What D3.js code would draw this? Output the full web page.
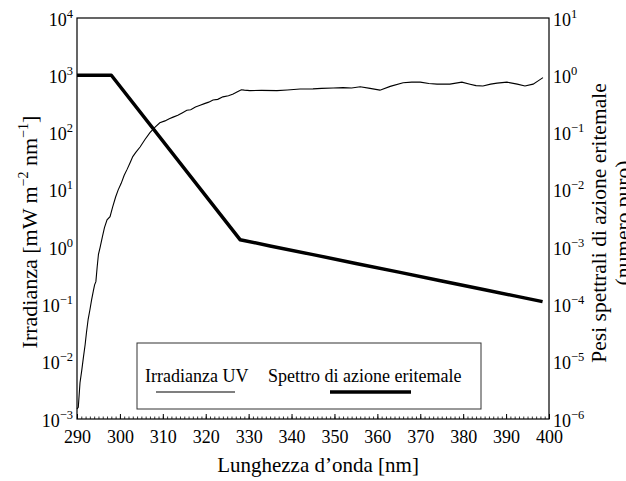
<!DOCTYPE html>
<html>
<head>
<meta charset="utf-8">
<script src="https://cdn.jsdelivr.net/npm/d3@7"></script>
<style>
  html, body { margin: 0; padding: 0; background: #fff; }
  svg { display: block; }
  svg text { font-family: "Liberation Serif", "DejaVu Serif", "Times New Roman", Times, serif !important; fill: #000; }
</style>
</head>
<body>
<svg id="chart" width="626" height="481" font-family="Liberation Serif, serif"></svg>
<script>
// ---- data ----
const xTicks = [290, 300, 310, 320, 330, 340, 350, 360, 370, 380, 390, 400];
const leftExponents = [-3, -2, -1, 0, 1, 2, 3, 4];
const rightExponents = [-6, -5, -4, -3, -2, -1, 0, 1];

const uvWavelength = [290.0, 290.3, 290.7, 291.1, 291.5, 291.9, 292.2, 292.6, 293.0, 293.4, 293.8, 294.1, 294.4,
  294.7, 295.0, 295.4, 295.9, 296.4, 297.0, 297.7, 298.3, 299.0, 299.6, 300.3, 301.0, 301.7, 302.4, 303.0,
  303.7, 304.7, 305.8, 307.0, 308.2, 309.3, 310.5, 311.5, 312.4, 313.5, 314.5, 315.6, 316.5, 317.6, 318.7,
  319.7, 320.7, 321.7, 322.8, 324.0, 325.3, 326.4, 327.5, 328.3, 329.0, 330.3, 333.0, 336.6, 339.0, 342.0,
  345.0, 347.0, 349.7, 352.0, 354.0, 356.0, 358.3, 360.6, 363.0, 366.0, 368.0, 370.0, 372.0, 373.9, 376.9,
  379.7, 381.6, 383.0, 384.6, 386.4, 387.9, 390.2, 392.6, 394.4, 396.3, 397.9, 398.6];
const uvIrradiance = [0.0015, 0.0016, 0.0043, 0.007, 0.012, 0.02, 0.032, 0.055, 0.08, 0.12, 0.17, 0.22, 0.25,
  0.45, 0.75, 1.0, 1.5, 2.2, 3.0, 3.4, 5.0, 7.5, 10, 13, 18, 23, 30, 38,
  45, 56, 75, 100, 125, 148, 160, 175, 186, 200, 220, 245, 250, 280, 300,
  320, 340, 370, 380, 420, 440, 470, 520, 560, 550, 540, 545, 540, 555, 575,
  580, 590, 600, 610, 600, 630, 590, 550, 640, 740, 760, 760, 720, 700, 700,
  760, 700, 660, 650, 700, 730, 760, 700, 650, 700, 840, 910];

const actionWavelength = [290, 298, 328, 335, 345, 355, 365, 375, 385, 392, 398.5];
const actionWeight = [1, 1, 0.00135, 0.00105, 0.00074, 0.00052, 0.000366, 0.000257, 0.00018, 0.000141, 0.000112];

const legendLabels = ["Irradianza UV", "Spettro di azione eritemale"];

// ---- layout ----
const FONT = "Liberation Serif, DejaVu Serif, serif";
const svg = d3.select("#chart");
const pL = 77, pR = 549, pT = 18, pB = 419;

const x = d3.scaleLinear().domain([290, 400]).range([pL, pR]);
const yL = d3.scaleLog().domain([1e-3, 1e4]).range([pB, pT]);
const yR = d3.scaleLog().domain([1e-6, 1e1]).range([pB, pT]);

// frame
svg.append("rect")
  .attr("x", pL).attr("y", pT)
  .attr("width", pR - pL).attr("height", pB - pT)
  .attr("fill", "none").attr("stroke", "#000").attr("stroke-width", 1.2);

// x axis minor ticks
const minor = svg.append("g").attr("transform", `translate(0,${pB})`)
  .call(d3.axisBottom(x).tickValues(d3.range(290, 401, 1)).tickSizeInner(-2.5).tickSizeOuter(0).tickFormat(""));
minor.select(".domain").remove();
minor.selectAll("line").attr("stroke", "#000").attr("stroke-width", 0.8);

// x axis major ticks + labels
const xa = svg.append("g").attr("transform", `translate(0,${pB})`)
  .call(d3.axisBottom(x).tickValues(xTicks).tickSizeInner(-5).tickSizeOuter(0).tickPadding(11).tickFormat(d3.format("d")));
xa.attr("font-family", FONT);
xa.select(".domain").remove();
xa.selectAll("line").attr("stroke", "#000").attr("stroke-width", 1);
xa.selectAll("text").attr("font-size", 18).attr("font-family", FONT).attr("fill", "#000");

// y axes (no ticks, only labels)
function powLabel(g, exp, anchor) {
  const t = g.append("text").attr("font-size", 18).attr("font-family", FONT).attr("text-anchor", anchor);
  t.append("tspan").text("10");
  t.append("tspan").attr("dy", -8).attr("font-size", 12.5)
    .text(exp < 0 ? "\u2212" + Math.abs(exp) : String(exp));
  return t;
}
const yLa = svg.append("g").attr("transform", `translate(${pL},0)`)
  .call(d3.axisLeft(yL).tickValues(leftExponents.map(e => Math.pow(10, e))).tickSize(0).tickFormat(""));
yLa.attr("font-family", FONT);
yLa.select(".domain").remove();
yLa.selectAll(".tick").each(function(d, i) {
  const g = d3.select(this);
  g.selectAll("text").remove();
  powLabel(g, leftExponents[i], "end").attr("x", -4).attr("y", 7);
});

const yRa = svg.append("g").attr("transform", `translate(${pR},0)`)
  .call(d3.axisRight(yR).tickValues(rightExponents.map(e => Math.pow(10, e))).tickSize(0).tickFormat(""));
yRa.attr("font-family", FONT);
yRa.select(".domain").remove();
yRa.selectAll(".tick").each(function(d, i) {
  const g = d3.select(this);
  g.selectAll("text").remove();
  powLabel(g, rightExponents[i], "start").attr("x", 4).attr("y", 7);
});

// lines
const uvLine = d3.line().x(d => x(d[0])).y(d => yL(d[1]));
svg.append("path")
  .datum(uvWavelength.map((w, i) => [w, uvIrradiance[i]]))
  .attr("d", uvLine).attr("fill", "none").attr("stroke", "#000").attr("stroke-width", 1.1);

const asLine = d3.line().x(d => x(d[0])).y(d => yR(d[1]));
svg.append("path")
  .datum(actionWavelength.map((w, i) => [w, actionWeight[i]]))
  .attr("d", asLine).attr("fill", "none").attr("stroke", "#000").attr("stroke-width", 3.5)
  .attr("stroke-linejoin", "round");

// legend
const lg = svg.append("g").attr("font-family", FONT);
lg.append("rect").attr("x", 137).attr("y", 343).attr("width", 344).attr("height", 66)
  .attr("fill", "#fff").attr("stroke", "#333").attr("stroke-width", 1);
lg.append("text").attr("x", 145).attr("y", 382).attr("font-size", 18).text(legendLabels[0]);
lg.append("line").attr("x1", 156).attr("x2", 235).attr("y1", 392).attr("y2", 392)
  .attr("stroke", "#000").attr("stroke-width", 1.1);
lg.append("text").attr("x", 268).attr("y", 382).attr("font-size", 18).text(legendLabels[1]);
lg.append("line").attr("x1", 330).attr("x2", 411).attr("y1", 392).attr("y2", 392)
  .attr("stroke", "#000").attr("stroke-width", 3.5);

// axis titles
svg.append("text").attr("x", (pL + pR) / 2 + 5).attr("y", 472).attr("font-family", FONT)
  .attr("text-anchor", "middle").attr("font-size", 21).text("Lunghezza d\u2019onda [nm]");

const yt = svg.append("text").attr("transform", "translate(37,232) rotate(-90)").attr("font-family", FONT)
  .attr("text-anchor", "middle").attr("font-size", 22);
yt.append("tspan").text("Irradianza [mW m");
yt.append("tspan").attr("dy", -9).attr("font-size", 14).text("\u22122");
yt.append("tspan").attr("dy", 9).text(" nm");
yt.append("tspan").attr("dy", -9).attr("font-size", 14).text("\u22121");
yt.append("tspan").attr("dy", 9).text("]");

svg.append("text").attr("transform", "translate(606,223) rotate(-90)").attr("font-family", FONT)
  .attr("text-anchor", "middle").attr("font-size", 21.5).text("Pesi spettrali di azione eritemale");
svg.append("text").attr("transform", "translate(630,223) rotate(-90)").attr("font-family", FONT)
  .attr("text-anchor", "middle").attr("font-size", 21.5).text("(numero puro)");
</script>
</body>
</html>
